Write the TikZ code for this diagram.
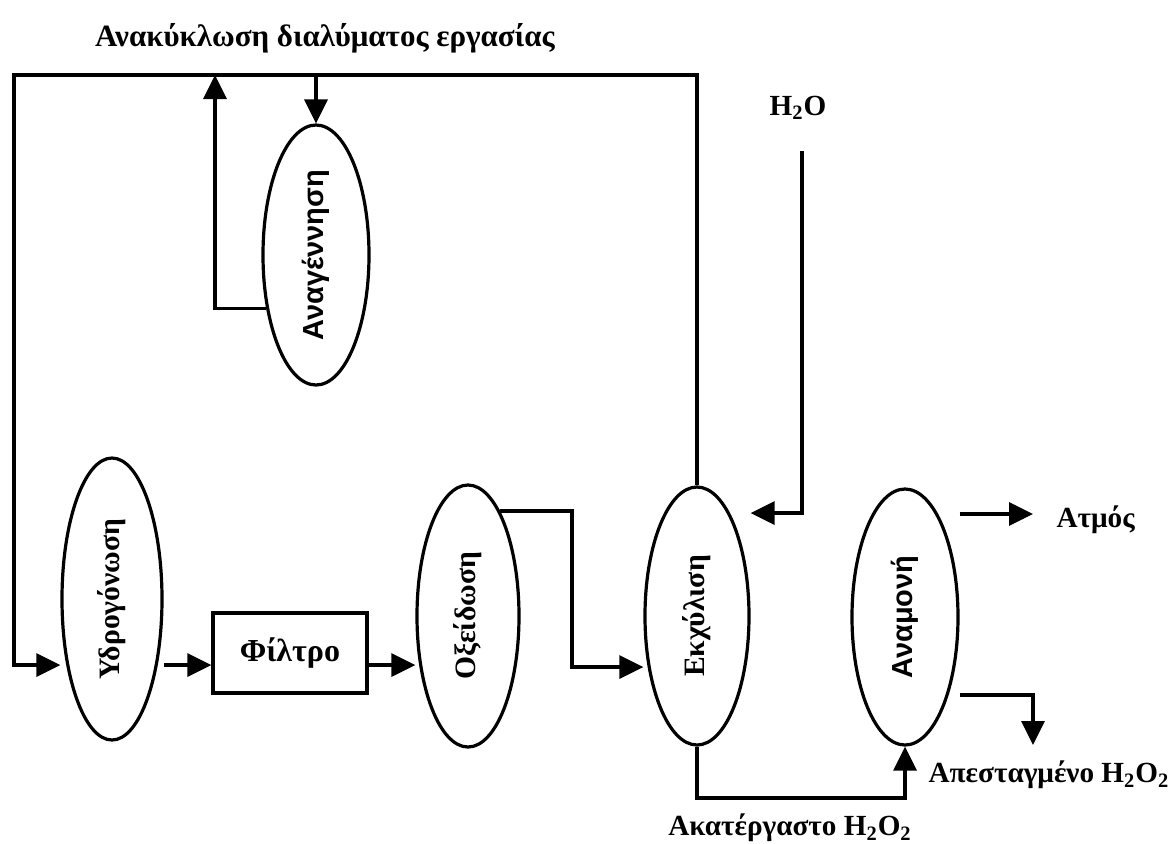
\documentclass[tikz,border=0pt]{standalone}
\usepackage{fontspec}
\setmainfont{Liberation Serif}
\setsansfont{Liberation Sans}
\usetikzlibrary{arrows.meta,shapes.geometric}

\begin{document}
\begin{tikzpicture}[x=0.5pt,y=-0.5pt,
  line width=1.6pt,
  arr/.style={-{Triangle[length=12pt,width=11.5pt]}},
  unit/.style={draw, ellipse, inner sep=0pt, font=\bfseries\fontsize{14.8}{16}\selectfont},
  sansunit/.style={unit, font=\sffamily\bfseries\fontsize{14.5}{16}\selectfont},
  box/.style={draw, rectangle, inner sep=0pt, font=\bfseries\fontsize{16}{18}\selectfont},
  lbl/.style={font=\bfseries\fontsize{14.6}{16}\selectfont, inner sep=0pt}]
\useasboundingbox (0,0) rectangle (1173,843);

% process units
\node[unit, minimum width=50pt, minimum height=141pt] (hy) at (112,599) {\rotatebox{90}{Υδρογόνωση}};
\node[sansunit, minimum width=53pt, minimum height=130pt] (an) at (316,255) {\rotatebox{90}{Αναγέννηση}};
\node[unit, minimum width=51pt, minimum height=131pt] (ox) at (468,616) {\rotatebox{90}{Οξείδωση}};
\node[unit, minimum width=52pt, minimum height=129pt] (ek) at (697,616) {\rotatebox{90}{Εκχύλιση}};
\node[sansunit, minimum width=53pt, minimum height=128pt] (am) at (905,617) {\rotatebox{90}{Αναμονή}};
\node[box, minimum width=77pt, minimum height=40pt] (filt) at (290,653) {Φίλτρο};

% labels
\node[lbl, font=\bfseries\fontsize{15.5}{17}\selectfont] (title) at (325,38) {Ανακύκλωση διαλύματος εργασίας};
\node[lbl] (h2o) at (798,108) {H\textsubscript{2}O};
\node[lbl, anchor=west] (atmos) at (1055,520) {Ατμός};
\node[lbl, anchor=west] (dist) at (927,775) {Απεσταγμένο H\textsubscript{2}O\textsubscript{2}};
\node[lbl] (crude) at (790,828) {Ακατέργαστο H\textsubscript{2}O\textsubscript{2}};

% routing points
\coordinate (topleft) at (14,75);
\coordinate (flow) at (0,665);
\coordinate (flowB) at (0,667);
\coordinate (turnA) at (572,0);
\coordinate (upx) at (215,0);
\coordinate (h2oin) at (0,513);
\coordinate (steam) at (0,514);
\coordinate (dlev) at (0,695);
\coordinate (dtip) at (1033,745);
\coordinate (bot) at (0,798);
\coordinate (h2ox) at (802,0);

% recycle loop of the working solution
\draw[arr] (ek.north) |- (topleft) |- (hy.west |- flow);
\draw[arr] (an.north |- topleft) -- (an.north);
\draw[arr] (an.227) -| (upx |- topleft);

% main line
\draw[arr] (hy.east |- flow) -- (filt.west |- flow);
\draw[arr] (filt.east |- flow) -- (ox.west |- flow);
\draw[arr] (ox.73) -| (turnA |- flowB) -- (ek.west |- flowB);

% water feed
\draw[arr, shorten <=15pt] (h2o.south -| h2ox) -- (h2ox |- h2oin) -- (ek.east |- h2oin);

% products
\draw[arr] (ek.south) -- (ek.south |- bot) -| (am.south);
\draw[arr] (am.east |- steam) -- ([xshift=-11pt]atmos.west |- steam);
\draw[arr] (am.east |- dlev) -| (dtip);
\end{tikzpicture}
\end{document}
